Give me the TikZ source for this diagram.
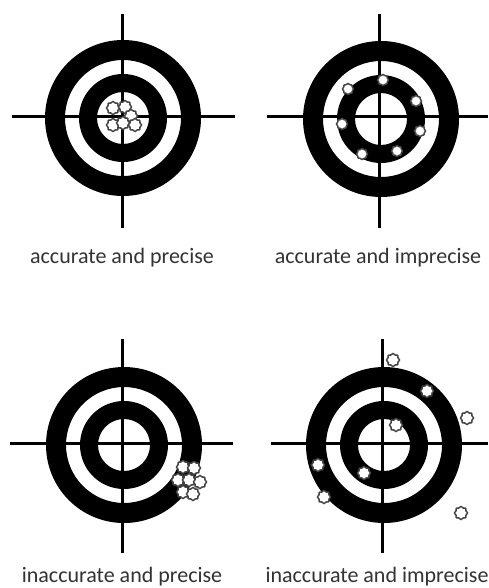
\documentclass[tikz,border=0pt]{standalone}
\usepackage{fontspec}
\setmainfont{Carlito}
\usetikzlibrary{shapes.geometric}
\definecolor{gearcol}{HTML}{444444}
\definecolor{labelcol}{HTML}{333333}
\tikzset{
  ring/.style={fill=black,even odd rule},
  cross/.style={draw=black,line width=3pt},
  gear/.style={star,star points=8,star point ratio=1.35,draw=gearcol,fill=white,
    line width=1.5pt,minimum size=14pt,inner sep=0pt,rounded corners=0.8pt},
  smallgear/.style={gear,minimum size=12pt},
  label/.style={text=labelcol,font=\fontsize{22}{26}\selectfont,inner sep=0pt}
}
\begin{document}
\begin{tikzpicture}[x=1pt,y=-1pt]
\useasboundingbox (0,0) rectangle (488,588);
\fill[white] (0,0) rectangle (488,588);
% target centres
\coordinate (c1) at (123,118);
\coordinate (c2) at (381,119);
\coordinate (c3) at (124,445);
\coordinate (c4) at (384,445);
% rings
\foreach \c in {c1,c2,c3,c4}{
  \fill[ring] (\c) circle[radius=78pt] circle[radius=58pt];
  \fill[ring] (\c) circle[radius=44pt] circle[radius=26pt];
}
% crosshairs
\coordinate (v1a) at (122,14);  \coordinate (v1b) at (122,228);
\coordinate (h1a) at (12,117);  \coordinate (h1b) at (235,117);
\coordinate (v2a) at (379,14);  \coordinate (v2b) at (379,228);
\coordinate (h2a) at (267,117); \coordinate (h2b) at (488,117);
\coordinate (v3a) at (122,339); \coordinate (v3b) at (122,553);
\coordinate (h3a) at (10,443);  \coordinate (h3b) at (233,443);
\coordinate (v4a) at (382,339); \coordinate (v4b) at (382,553);
\coordinate (h4a) at (271,443); \coordinate (h4b) at (488,443);
\foreach \n in {1,2,3,4}{
  \draw[cross] (v\n a) -- (v\n b);
  \draw[cross] (h\n a) -- (h\n b);
}
% shots: accurate and precise
\node[gear] (a1) at (113,108) {};
\node[gear] (a2) at (125,107) {};
\node[gear] (a3) at (131,116) {};
\node[gear] (a4) at (113,125) {};
\node[gear] (a5) at (123,123) {};
\node[gear] (a6) at (135,125) {};
% shots: accurate and imprecise
\node[smallgear] (b1) at (383,80) {};
\node[smallgear] (b2) at (348,89) {};
\node[smallgear] (b3) at (416,101) {};
\node[smallgear] (b4) at (342,124) {};
\node[smallgear] (b5) at (420,131) {};
\node[smallgear] (b6) at (362,154) {};
\node[smallgear] (b7) at (397,151) {};
% shots: inaccurate and precise
\node[gear] (p1) at (183,467) {};
\node[gear] (p2) at (194,468) {};
\node[gear] (p3) at (178,480) {};
\node[gear] (p4) at (189,480) {};
\node[gear] (p5) at (200,482) {};
\node[gear] (p6) at (183,492) {};
\node[gear] (p7) at (193,494) {};
% shots: inaccurate and imprecise
\node[gear] (q1) at (393,360) {};
\node[gear] (q2) at (427,391) {};
\node[gear] (q3) at (467,418) {};
\node[gear] (q4) at (396,425) {};
\node[gear] (q5) at (318,465) {};
\node[gear] (q6) at (364,473) {};
\node[gear] (q7) at (324,497) {};
\node[gear] (q8) at (461,513) {};
% labels
\node[label] (l1) at (122,258) {accurate and precise};
\node[label] (l2) at (378,258) {accurate and imprecise};
\node[label] (l3) at (122,577) {inaccurate and precise};
\node[label] (l4) at (377,577) {inaccurate and imprecise};
\end{tikzpicture}
\end{document}
